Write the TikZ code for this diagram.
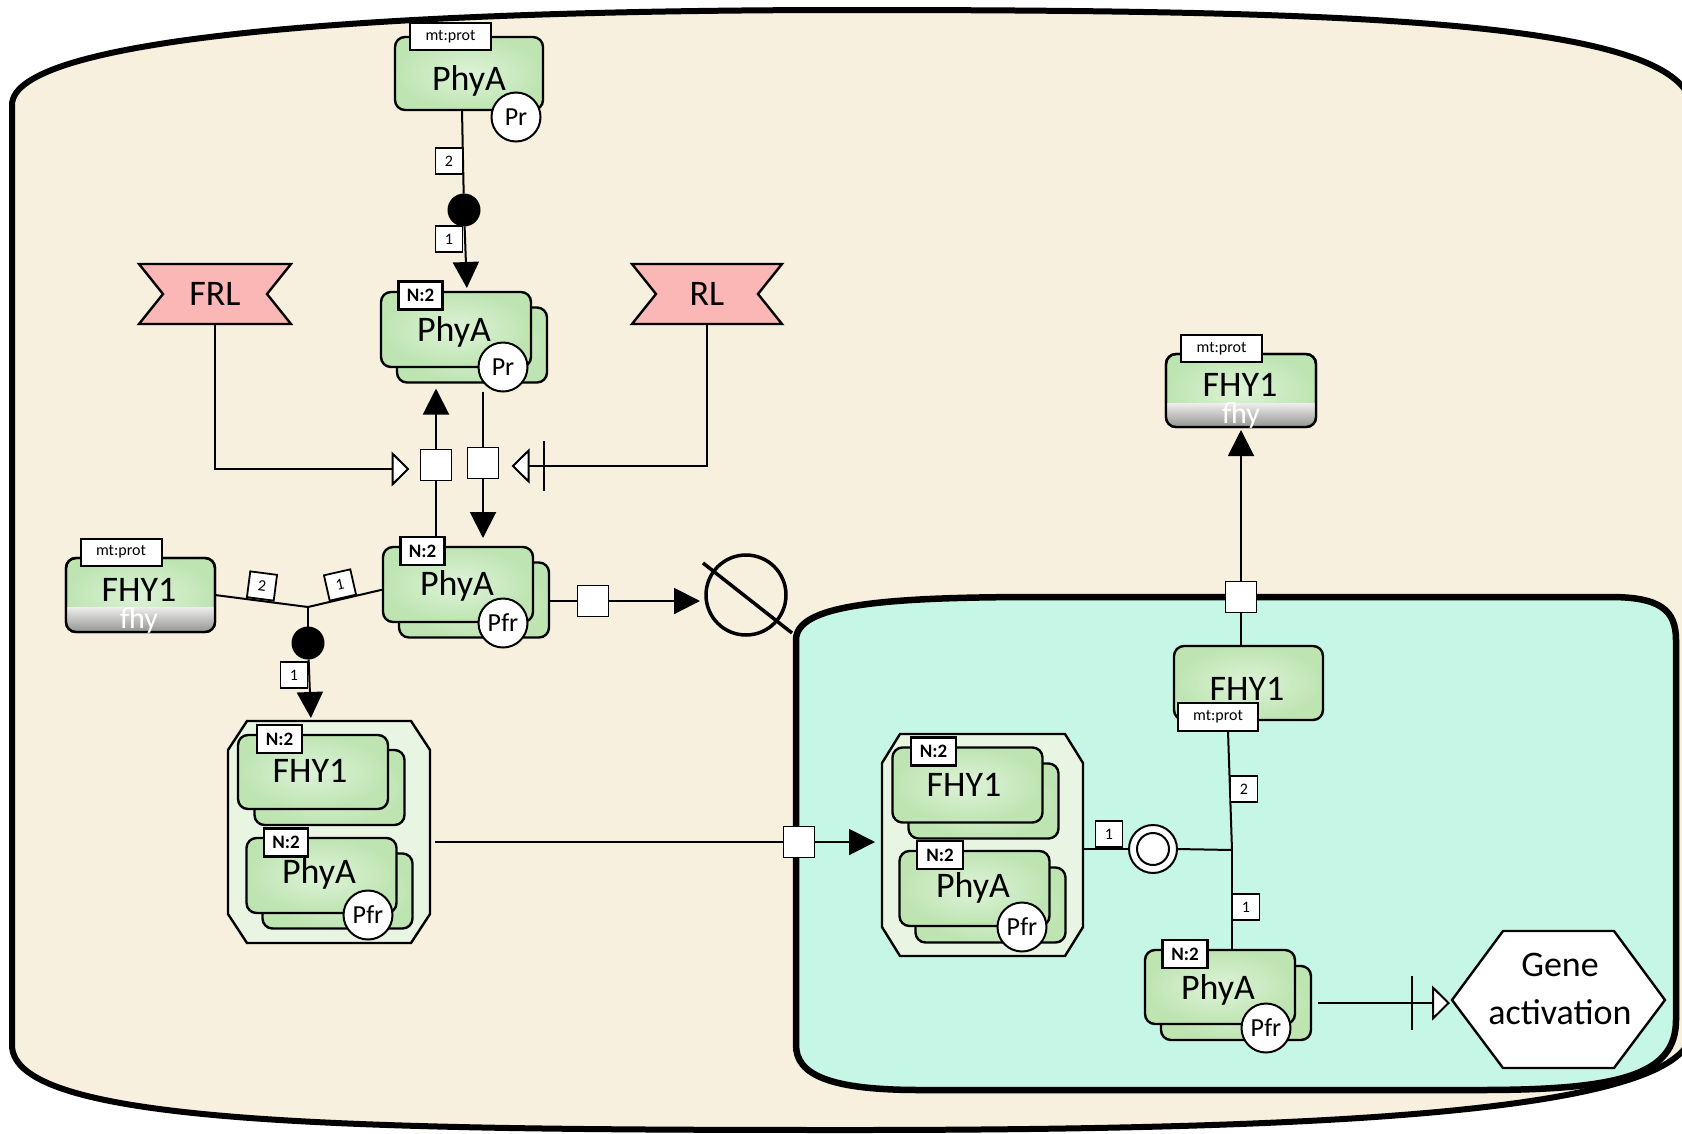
\documentclass[tikz,border=0pt]{standalone}
\usepackage{fontspec}
\setmainfont{Carlito}
\usetikzlibrary{arrows.meta}

\definecolor{cytofill}{RGB}{248,240,222}
\definecolor{nucfill}{RGB}{198,246,229}
\definecolor{mmlight}{RGB}{222,243,216}
\definecolor{mmdark}{RGB}{190,228,178}
\definecolor{cxfill}{RGB}{232,245,227}
\definecolor{pertfill}{RGB}{251,182,182}
\definecolor{bandtop}{RGB}{238,238,236}
\definecolor{bandbot}{RGB}{118,118,116}

\tikzset{
  every node/.style={inner sep=0pt, outer sep=0pt},
  mmol/.style={draw, line width=2.4pt, rounded corners=10pt, inner color=mmlight, outer color=mmdark, minimum width=150pt, minimum height=75pt},
  info/.style={draw, line width=2pt, fill=white, minimum width=81pt, minimum height=27pt, font=\fontsize{16}{16}\selectfont},
  mult/.style={draw, line width=2.4pt, fill=white, minimum width=44pt, minimum height=28pt, font=\bfseries\fontsize{19}{19}\selectfont},
  svar/.style={circle, draw, line width=2pt, fill=white, minimum size=49pt, font=\fontsize{26}{26}\selectfont},
  lbl/.style={font=\fontsize{36}{36}\selectfont},
  sublbl/.style={font=\fontsize{30}{30}\selectfont, text=white},
  stoich/.style={draw, line width=1.8pt, fill=white, minimum width=27pt, minimum height=26pt, font=\fontsize{16}{16}\selectfont},
  proc/.style={draw, line width=1.5pt, fill=white, minimum size=31pt},
  assoc/.style={circle, fill=black, minimum size=33pt},
  conn/.style={line width=2pt},
  prod/.style={-{Triangle[length=26pt,width=26pt]}},
  stim/.style={-{Triangle[open,fill=white,length=18pt,width=35pt]}},
  compart/.style={line width=6pt, line join=round},
  pertag/.style={draw, line width=2.4pt, fill=pertfill},
  cplxbox/.style={draw, line width=2.4pt, fill=cxfill},
  frame/.style={draw=none, fill=none},
}

\begin{document}
\begin{tikzpicture}[x=1pt,y=-1pt]
\useasboundingbox (0,0) rectangle (1682,1133);
\clip (0,0) rectangle (1682,1133);

% ---------- compartments ----------
\draw[compart, fill=cytofill] (12,1045) -- (12,105)
  .. controls (12,40) and (350,10) .. (850,10)
  .. controls (1350,10) and (1690,20) .. (1692,110) -- (1692,1030)
  .. controls (1690,1110) and (1350,1130) .. (850,1130)
  .. controls (350,1130) and (12,1125) .. (12,1045) -- cycle;

\draw[compart, line width=6.5pt, fill=nucfill] (796,1045) -- (796,640)
  .. controls (796,605) and (880,597) .. (1040,597) -- (1610,597)
  .. controls (1660,597) and (1676,610) .. (1676,640) -- (1676,1020)
  .. controls (1676,1075) and (1620,1090) .. (1480,1090) -- (920,1090)
  .. controls (830,1090) and (796,1075) .. (796,1045) -- cycle;

% ---------- perturbing agents ----------
\node[frame, minimum width=152pt, minimum height=60pt] (frl) at (215,294) {};
\draw[pertag] (139,264) -- (291,264) -- (267,294) -- (291,324) -- (139,324) -- (163,294) -- cycle;
\node[lbl] (frlT) at (frl) {FRL};

\node[frame, minimum width=150pt, minimum height=60pt] (rl) at (707,294) {};
\draw[pertag] (632,264) -- (782,264) -- (758,294) -- (782,324) -- (632,324) -- (656,294) -- cycle;
\node[lbl] (rlT) at (rl) {RL};

% ---------- PhyA (Pr) monomer ----------
\node[mmol, minimum width=148pt, minimum height=73pt] (phyA1) at (469,73.5) {};
\node[info] (mt1) at (450.5,36.5) {mt:prot};
\node[lbl, anchor=base] (t1) at (469,90) {PhyA};
\node[svar] (sv1) at (516,117) {Pr};

% ---------- PhyA (Pr) dimer ----------
\node[mmol] (dPrB) at (472,345) {};
\node[mmol] (dPr) at (456,329.5) {};
\node[mult] (mPr) at (420.5,295.5) {N:2};
\node[lbl, anchor=base] (t2) at (454,341) {PhyA};
\node[svar] (sv2) at (503,367) {Pr};

% ---------- PhyA (Pfr) dimer ----------
\node[mmol] (dPfrB) at (474,600) {};
\node[mmol] (dPfr) at (458,584.5) {};
\node[mult] (mPfr) at (422.5,551) {N:2};
\node[lbl, anchor=base] (t3) at (457,595) {PhyA};
\node[svar] (sv3) at (503,623) {Pfr};

% ---------- FHY1 (cytosol) ----------
\node[mmol, minimum width=149pt, minimum height=74pt] (fhyL) at (140.5,595) {};
\begin{scope}
  \clip[rounded corners=10pt] (fhyL.south west) rectangle (fhyL.north east);
  \shade[top color=bandtop, bottom color=bandbot] (60,607) rectangle (220,640);
\end{scope}
\draw[line width=2.4pt, rounded corners=10pt] (fhyL.south west) rectangle (fhyL.north east);
\node[info] (mtL) at (121,552) {mt:prot};
\node[lbl, anchor=base] (t4) at (139,601) {FHY1};
\node[sublbl, anchor=base] (t4b) at (139,628) {fhy};

% ---------- FHY1 (exported) ----------
\node[mmol, minimum width=150pt, minimum height=73pt] (fhyT) at (1241,390.5) {};
\begin{scope}
  \clip[rounded corners=10pt] (fhyT.south west) rectangle (fhyT.north east);
  \shade[top color=bandtop, bottom color=bandbot] (1160,403) rectangle (1320,435);
\end{scope}
\draw[line width=2.4pt, rounded corners=10pt] (fhyT.south west) rectangle (fhyT.north east);
\node[info] (mtT) at (1221.5,348.5) {mt:prot};
\node[lbl, anchor=base] (t5) at (1240,396) {FHY1};
\node[sublbl, anchor=base] (t5b) at (1241,423) {fhy};

% ---------- complex (cytosol) ----------
\node[frame, minimum width=202pt, minimum height=222pt] (cxL) at (329,832) {};
\draw[cplxbox] (228,750) -- (247,721) -- (411,721) -- (430,750) -- (430,914) -- (411,943) -- (247,943) -- (228,914) -- cycle;
\node[mmol] (cLfB) at (329.5,787.5) {};
\node[mmol, minimum height=74pt] (cLf) at (313,772) {};
\node[mult, minimum width=45pt] (cLfm) at (279.5,739) {N:2};
\node[lbl, anchor=base] (t6) at (310,782) {FHY1};
\node[mmol] (cLpB) at (337.5,891) {};
\node[mmol] (cLp) at (321.5,875.5) {};
\node[mult] (cLpm) at (286,842.5) {N:2};
\node[lbl, anchor=base] (t7) at (319,883) {PhyA};
\node[svar] (sv4) at (368,915) {Pfr};

% ---------- complex (nucleus) ----------
\node[frame, minimum width=201pt, minimum height=222pt] (cxN) at (982.5,845) {};
\draw[cplxbox] (882,763) -- (900,734) -- (1065,734) -- (1083,763) -- (1083,927) -- (1065,956) -- (900,956) -- (882,927) -- cycle;
\node[mmol] (cNfB) at (983.5,801) {};
\node[mmol] (cNf) at (967.5,785) {};
\node[mult, minimum width=45pt] (cNfm) at (933.5,751.5) {N:2};
\node[lbl, anchor=base] (t8) at (964,796) {FHY1};
\node[mmol] (cNpB) at (990.5,905) {};
\node[mmol] (cNp) at (974.5,888.5) {};
\node[mult, minimum width=46pt] (cNpm) at (940,855) {N:2};
\node[lbl, anchor=base] (t9) at (973,897) {PhyA};
\node[svar] (sv5) at (1022,927) {Pfr};

% ---------- FHY1 (nucleus) ----------
\node[mmol, minimum width=149pt, minimum height=74pt] (fhyN) at (1248.5,683) {};
\node[lbl, anchor=base] (t10) at (1247,700) {FHY1};
\node[info, minimum width=80pt, minimum height=28pt] (mtN) at (1218,717) {mt:prot};

% ---------- PhyA (Pfr) dimer, nucleus ----------
\node[mmol, minimum height=74pt] (dNucB) at (1236,1003) {};
\node[mmol, minimum height=74pt] (dNuc) at (1220,987) {};
\node[mult, minimum width=45pt] (mNuc) at (1185,954) {N:2};
\node[lbl, anchor=base] (t11) at (1218,999) {PhyA};
\node[svar] (sv6) at (1266,1028) {Pfr};

% ---------- gene activation ----------
\node[frame, minimum width=213pt, minimum height=137pt] (gene) at (1558.5,999.5) {};
\draw[line width=2.4pt, fill=white] (1452,1000) -- (1503,931) -- (1614,931) -- (1665,1000) -- (1614,1068) -- (1503,1068) -- cycle;
\node[lbl, anchor=base] (geneT1) at (1560,976) {Gene};
\node[lbl, anchor=base] (geneT2) at (1560,1024) {activation};

% ---------- process nodes ----------
\node[assoc] (pA) at (464,210) {};
\node[assoc] (pB) at (308,643) {};
\coordinate (jB) at (308,607);
\node[proc] (pC) at (436,465) {};
\node[proc] (pD) at (483,463) {};
\node[proc] (pE) at (593,601) {};
\node[proc] (pF) at (799,842) {};
\node[proc] (pG) at (1241,597) {};
\node[circle, draw, line width=2pt, fill=white, minimum size=48pt] (pH) at (1153,849) {};
\node[circle, draw, line width=2pt, minimum size=32pt] (pHi) at (pH) {};
\coordinate (jH) at (1232,850);
\node[circle, draw, line width=3.5pt, minimum size=80pt] (deg) at (746,595) {};
\draw[line width=3.5pt] ([shift={(-43,-32)}]deg.center) -- ([shift={(46,38)}]deg.center);

% ---------- connectors ----------
% association of PhyA into the Pr dimer
\draw[conn] ([xshift=-7pt]phyA1.south) -- (pA);
\draw[conn, prod, shorten >=4pt] (pA) -- ([xshift=11pt]dPr.north);

% light-driven conversions
\draw[conn] (pC.south) -- (pC.south |- mPfr.north);
\draw[conn, prod, shorten >=6pt] (pC.north) -- (pC.north |- dPrB.south);
\draw[conn] (pD.north |- sv2.south) -- (pD.north);
\draw[conn, prod, shorten >=9pt] (pD.south) -- (pD.south |- dPfr.north);

% modulation by FRL and RL
\draw[conn, stim, shorten >=11pt] (frl.south) |- ([yshift=-4pt]pC.west);
\draw[conn, stim, shorten >=13pt] (rl.south) |- ([yshift=-3pt]pD.east);
\draw[conn] ([xshift=45pt,yshift=22pt]pD.east) -- ([xshift=45pt,yshift=-28pt]pD.east);

% association of FHY1 with PhyA Pfr
\draw[conn] (fhyL.east) -- (jB);
\draw[conn] ([yshift=-5pt]dPfr.west) -- (jB);
\draw[conn] (jB) -- (pB);
\draw[conn, prod, shorten >=3pt] (pB) -- ([xshift=-18pt]cxL.north);

% degradation
\draw[conn] (pE.west -| dPfrB.east) -- (pE.west);
\draw[conn, prod, shorten >=6pt] (pE.east) -- (pE.east -| deg.west);

% nuclear import of the complex
\draw[conn] ([xshift=5pt]cxL.east |- pF) -- (pF.west);
\draw[conn, prod, shorten >=7pt] (pF.east) -- (cxN.west |- pF);

% dissociation in the nucleus
\draw[conn] (cxN.east |- pH) -- (pH.west);
\draw[conn] (pH.east) -- (jH);
\draw[conn] (jH) -- ([xshift=10pt]mtN.south);
\draw[conn] (jH) -- ([xshift=12pt]dNuc.north);

% export of FHY1
\draw[conn] (pG.south) -- (pG.south |- fhyN.north);
\draw[conn, prod, shorten >=3pt] (pG.north) -- (pG.north |- fhyT.south);

% gene activation
\draw[conn, stim, shorten >=9pt] ([xshift=7pt]dNucB.east) -- ([xshift=7pt]dNucB.east -| gene.west);
\draw[conn] ([xshift=101pt,yshift=27pt]dNucB.east) -- ([xshift=101pt,yshift=-27pt]dNucB.east);

% ---------- stoichiometry ----------
\node[stoich] (s1) at (449,161) {2};
\node[stoich] (s2) at (449,239) {1};
\node[stoich, rotate=-7.4] (s3) at (262,586) {2};
\node[stoich, rotate=12.8] (s4) at (340,585) {1};
\node[stoich] (s5) at (294,675) {1};
\node[stoich] (s6) at (1109,834) {1};
\node[stoich] (s7) at (1244,789) {2};
\node[stoich] (s8) at (1246,907) {1};

\end{tikzpicture}
\end{document}
